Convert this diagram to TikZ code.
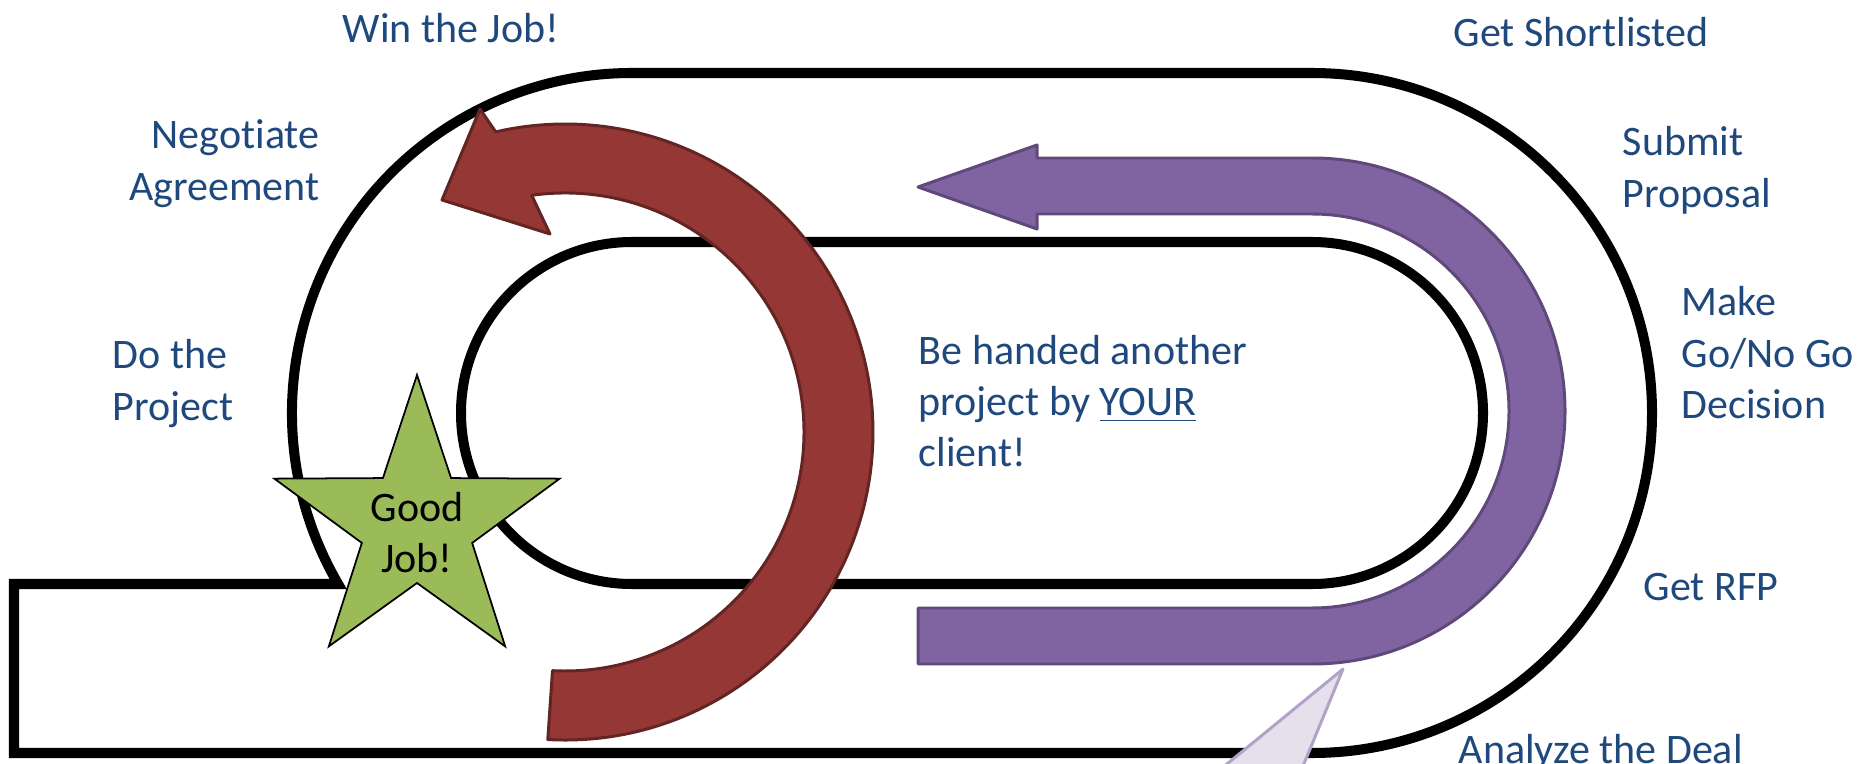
\documentclass[tikz,border=0pt]{standalone}
\usepackage{fontspec}
\setmainfont{Carlito}[Ligatures=CommonOff]
\definecolor{textblue}{HTML}{1F497D}
\definecolor{redfill}{HTML}{953735}
\definecolor{redline}{HTML}{632523}
\definecolor{purplefill}{HTML}{8064A2}
\definecolor{purpleline}{HTML}{5F497A}
\definecolor{stargreen}{HTML}{9BBB59}
\definecolor{calloutfill}{HTML}{E6E0EC}
\definecolor{calloutline}{HTML}{B3A2C7}
\tikzset{
  track/.style={draw=black, line width=2.85pt},
  redarrow/.style={fill=redfill, draw=redline, line width=0.85pt, line join=round},
  purplearrow/.style={fill=purplefill, draw=purpleline, line width=0.85pt, line join=round},
  starshape/.style={fill=stargreen, draw=black, line width=0.5pt},
  calloutwedge/.style={fill=calloutfill, draw=calloutline, line width=0.85pt, line join=round},
  lbl/.style={font=\fontsize{11.95}{14.6}\selectfont, text=textblue, inner sep=0pt},
  blk/.style={font=\fontsize{11.95}{14.6}\selectfont, text=black, inner sep=0pt}
}
\begin{document}
\begin{tikzpicture}[x=0.01cm,y=-0.01cm]
\useasboundingbox (0,0) rectangle (1864,764);
\clip (0,0) rectangle (1864,764);

% outer track
\draw[track] (632,73) -- (1312,73) arc[start angle=-90, end angle=90, radius=340]
  -- (14,753) -- (14,584) -- (338.15,584) arc[start angle=149.8, end angle=270, radius=340] -- cycle;
% inner track
\draw[track] (632,242) -- (1312,242) arc[start angle=-90, end angle=90, radius=171]
  -- (632,584) arc[start angle=90, end angle=270, radius=171] -- cycle;

% red circular arrow
\draw[redarrow] (547.81,739.52) arc[start angle=93.2, end angle=-103, radius=308]
  -- (480,109) -- (442,200) -- (550,234) -- (531.74,195.33)
  arc[start angle=-98, end angle=93, radius=239] -- cycle;

% purple U arrow
\draw[purplearrow] (918,664) -- (1312,664) arc[start angle=90, end angle=-90, radius=253]
  -- (1037,158) -- (1037,145) -- (918,187) -- (1037,229) -- (1037,214) -- (1312,214)
  arc[start angle=-90, end angle=90, radius=197] -- (918,608) -- cycle;

% star
\draw[starshape, shift={(417,525)}] (-90:150) -- (-54:58) -- (-18:150) -- (18:58) -- (54:150)
  -- (90:58) -- (126:150) -- (162:58) -- (198:150) -- (234:58) -- cycle;
\node[blk, anchor=base] (good) at (417,521) {\begin{tabular}[t]{@{}c@{}}Good\\Job!\end{tabular}};

% callout wedge
\draw[calloutwedge] (1343,669) -- (1289,800) -- (1183,800) -- cycle;

% labels
\node[lbl, anchor=base west] (win) at (342,43) {Win the Job!};
\node[lbl, anchor=base east] (negotiate) at (320,149) {\begin{tabular}[t]{@{}r@{}}Negotiate\\Agreement\end{tabular}};
\node[lbl, anchor=base west] (doproj) at (112,369) {\begin{tabular}[t]{@{}l@{}}Do the\\Project\end{tabular}};
\node[lbl, anchor=base west] (short) at (1453,47) {Get Shortlisted};
\node[lbl, anchor=base west] (submit) at (1622,156) {\begin{tabular}[t]{@{}l@{}}Submit\\Proposal\end{tabular}};
\node[lbl, anchor=base west] (make) at (1681,316) {\begin{tabular}[t]{@{}l@{}}Make\\Go/No Go\\Decision\end{tabular}};
\node[lbl, anchor=base west] (rfp) at (1643,600) {Get RFP};
\node[lbl, anchor=base west] (analyze) at (1458,763) {Analyze the Deal};
\node[lbl, anchor=base west] (handed) at (918,364) {\begin{tabular}[t]{@{}l@{}}Be handed another\\project by \underline{YOUR}\\client!\end{tabular}};
\end{tikzpicture}
\end{document}
